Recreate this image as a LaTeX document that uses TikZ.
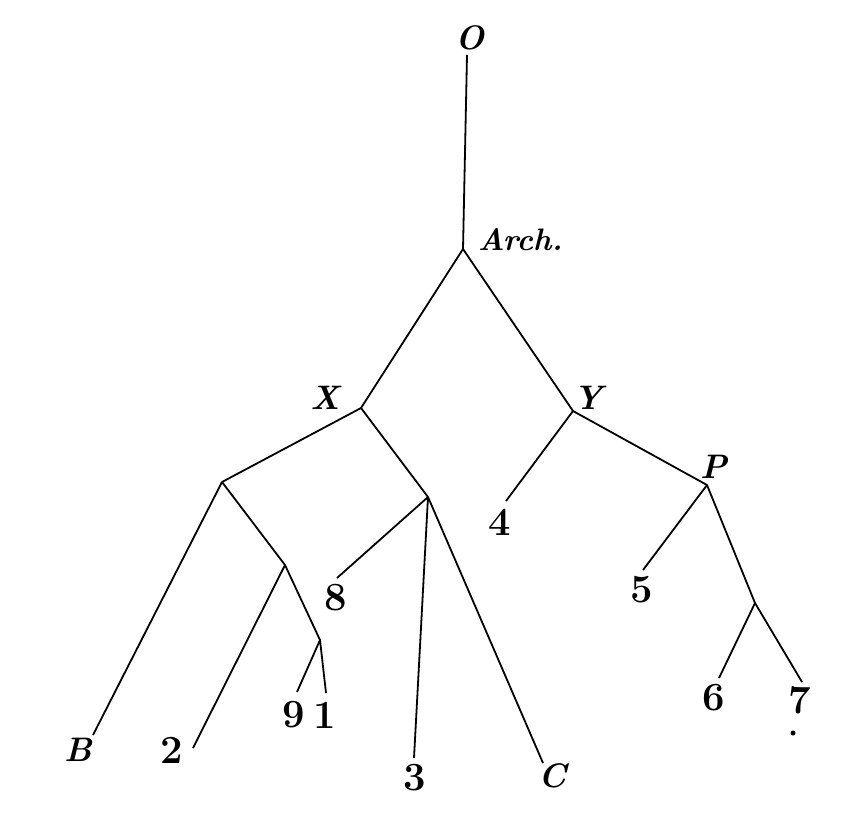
\documentclass[tikz,border=0pt]{standalone}
\begin{document}
\begin{tikzpicture}[x=0.5pt,y=-0.5pt,line width=0.9pt,
lbl/.style={inner sep=0pt,font=\fontsize{20}{22}\selectfont\bfseries},
ilbl/.style={inner sep=0pt,font=\fontsize{17}{19}\selectfont\bfseries\itshape}]
\useasboundingbox (0,0) rectangle (865,814);
% branch points
\coordinate (top) at (467,55);
\coordinate (arch) at (463,249);
\coordinate (x) at (361,408);
\coordinate (y) at (573,411);
\coordinate (xl) at (222,482);
\coordinate (xr) at (428,497);
\coordinate (xll) at (285,565);
\coordinate (xlll) at (320,640);
\coordinate (p) at (707,485);
\coordinate (pr) at (755,603);
% free ends
\coordinate (eB) at (93,735);
\coordinate (e2) at (193,748);
\coordinate (e9) at (297,692);
\coordinate (e1) at (326,693);
\coordinate (e8) at (337,578);
\coordinate (e3) at (414,758);
\coordinate (eC) at (543,763);
\coordinate (e4) at (506,501);
\coordinate (e5) at (643,570);
\coordinate (e6) at (719,678);
\coordinate (e7) at (802,682);
% labels
\node[ilbl] (lO) at (470,38) {O};
\node[ilbl,anchor=west,font=\fontsize{15.5}{18}\selectfont\bfseries\itshape] (lArch) at (477,240) {Arch.};
\node[ilbl] (lX) at (325,398) {X};
\node[ilbl] (lY) at (588,398) {Y};
\node[ilbl] (lP) at (714,467) {P};
\node[ilbl] (lB) at (78,750) {B};
\node[ilbl] (lC) at (553,776) {C};
\node[lbl] (l2) at (172,750) {2};
\node[lbl] (l9) at (294,715) {9};
\node[lbl] (l1) at (325,715) {1};
\node[lbl] (l8) at (336,598) {8};
\node[lbl] (l3) at (415,778) {3};
\node[lbl] (l4) at (500,522) {4};
\node[lbl] (l5) at (642,590) {5};
\node[lbl] (l6) at (714,698) {6};
\node[lbl] (l7) at (800,700) {7};
\fill (793,733) circle (2.5);
% tree
\draw (top) -- (arch) (arch) -- (x) (arch) -- (y)
 (x) -- (xl) (x) -- (xr)
 (xl) -- (eB) (xl) -- (xll) (xll) -- (e2) (xll) -- (xlll)
 (xlll) -- (e9) (xlll) -- (e1)
 (xr) -- (e8) (xr) -- (e3) (xr) -- (eC)
 (y) -- (e4) (y) -- (p) (p) -- (e5) (p) -- (pr)
 (pr) -- (e6) (pr) -- (e7);
\end{tikzpicture}
\end{document}
